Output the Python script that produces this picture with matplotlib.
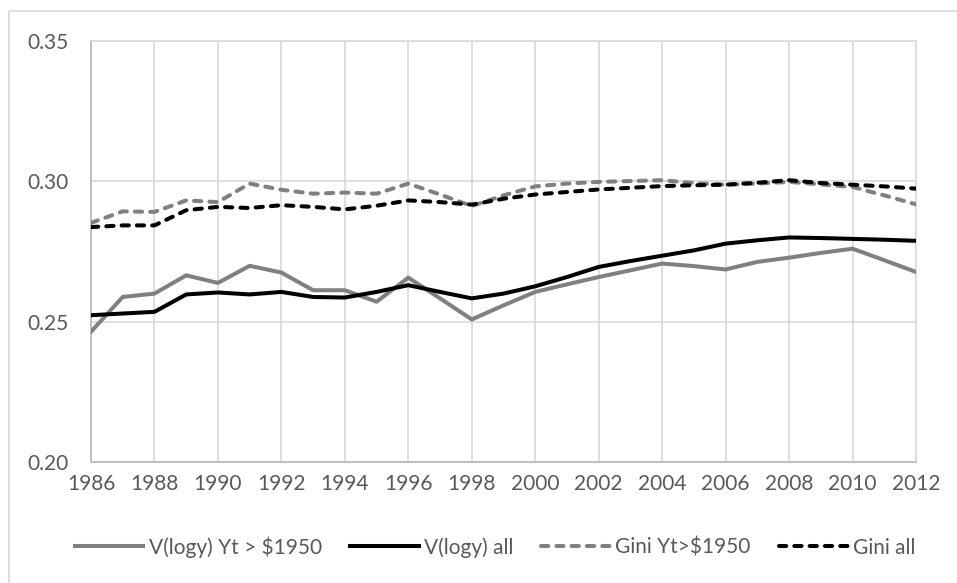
import matplotlib
matplotlib.use("Agg")
from matplotlib import pyplot as plt
from matplotlib.patches import Rectangle

plt.rcParams['font.family'] = ['Lato', 'DejaVu Sans']

years = list(range(1986, 2013))

# V(logy) for incomes above $1950
vlog_above = [0.2464, 0.2588, 0.2600, 0.2665, 0.2638, 0.2699, 0.2675, 0.2612, 0.2612, 0.2571,
              0.2657, 0.2583, 0.2508, 0.2558, 0.2606, 0.2633, 0.2659, 0.2683, 0.2707, 0.2698,
              0.2686, 0.2713, 0.2728, 0.2745, 0.2760, 0.2719, 0.2677]
# V(logy) everyone
vlog_all = [0.2523, 0.2529, 0.2535, 0.2597, 0.2604, 0.2597, 0.2606, 0.2588, 0.2586, 0.2606,
            0.2630, 0.2606, 0.2583, 0.2600, 0.2626, 0.2659, 0.2695, 0.2716, 0.2735, 0.2754,
            0.2778, 0.2790, 0.2800, 0.2798, 0.2795, 0.2792, 0.2788]
# Gini for incomes above $1950
gini_above = [0.2852, 0.2893, 0.2891, 0.2932, 0.2926, 0.2992, 0.2970, 0.2956, 0.2960, 0.2956,
              0.2992, 0.2953, 0.2912, 0.2950, 0.2982, 0.2992, 0.2998, 0.3001, 0.3004, 0.2994,
              0.2988, 0.2992, 0.2998, 0.2989, 0.2980, 0.2950, 0.2918]
# Gini everyone
gini_all = [0.2837, 0.2843, 0.2843, 0.2897, 0.2909, 0.2905, 0.2915, 0.2909, 0.2900, 0.2913,
            0.2932, 0.2926, 0.2917, 0.2938, 0.2953, 0.2962, 0.2971, 0.2977, 0.2983, 0.2986,
            0.2988, 0.2995, 0.3004, 0.2994, 0.2988, 0.2982, 0.2974]

labels = ["V(logy) Yt > $1950", "V(logy) all", "Gini Yt>$1950", "Gini all"]
x_ticks = list(range(1986, 2013, 2))
y_ticks = [0.20, 0.25, 0.30, 0.35]

text_col = "#595959"
grid_col = "#d9d9d9"
gray = "#808080"

fig = plt.figure(figsize=(9.57, 5.83), dpi=100)

# chart area border (Excel style)
fig.patches.append(Rectangle((9 / 957, -0.1), 1.2, 1 - 11 / 583 + 0.1, transform=fig.transFigure,
                             fill=False, edgecolor=grid_col, linewidth=1.2))

ax = fig.add_axes([91 / 957, 1 - 462 / 583, (916 - 91) / 957, (462 - 41) / 583])

lw = 2.9
ax.plot(years, vlog_above, color=gray, lw=lw, solid_joinstyle="round", label=labels[0], zorder=3)
ax.plot(years, vlog_all, color="black", lw=lw, solid_joinstyle="round", label=labels[1], zorder=3)
ax.plot(years, gini_above, color=gray, lw=lw, dashes=(1.8, 2.0), dash_capstyle="round",
        label=labels[2], zorder=3)
ax.plot(years, gini_all, color="black", lw=lw, dashes=(1.8, 2.0), dash_capstyle="round",
        label=labels[3], zorder=3)

ax.set_xlim(1986, 2012)
ax.set_ylim(0.20, 0.35)
ax.set_xticks(x_ticks)
ax.set_yticks(y_ticks)
ax.set_yticklabels([f"{v:.2f}" for v in y_ticks])
ax.grid(True, color=grid_col, linewidth=1.2, zorder=0)
ax.tick_params(length=0, labelsize=15, colors=text_col)
ax.tick_params(axis="y", pad=16)
ax.tick_params(axis="x", pad=9)
for side in ["top", "right"]:
    ax.spines[side].set_color(grid_col)
    ax.spines[side].set_linewidth(1.2)
for side in ["left", "bottom"]:
    ax.spines[side].set_color("#bfbfbf")
    ax.spines[side].set_linewidth(1.4)

leg = fig.legend(loc="center", bbox_to_anchor=(495 / 957, 1 - 547 / 583), ncol=4, frameon=False,
                 fontsize=15, handlelength=3.3, handletextpad=0.25, columnspacing=1.35)
for t in leg.get_texts():
    t.set_color(text_col)

fig.savefig("out.png", dpi=100)
